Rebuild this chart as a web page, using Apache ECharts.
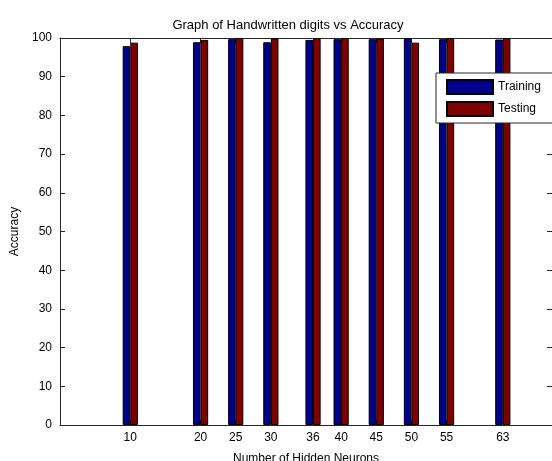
<!DOCTYPE html>
<html>
<head>
<meta charset="utf-8">
<script src="https://cdn.jsdelivr.net/npm/echarts@6/dist/echarts.min.js"></script>
<style>
  html, body { margin: 0; padding: 0; background: #fff; }
  #chart { width: 552px; height: 461px; }
</style>
</head>
<body>
<div id="chart"></div>
<script>
// hidden neuron counts and accuracies
var neurons = [10, 20, 25, 30, 36, 40, 45, 50, 55, 63];
var training = [97.9, 98.9, 99.7, 98.9, 99.5, 99.7, 99.7, 100, 99.7, 99.6];
var testing = [98.8, 99.5, 100, 99.9, 100, 100, 99.9, 98.8, 100, 100];

var FONT = 'Liberation Sans, Arial, sans-serif';
var AXIS_COLOR = '#262626';

function pairs(vals) {
  return neurons.map(function (n, i) { return [n, vals[i]]; });
}

// matlab style box axis: line on every side, ticks pointing in
function boxAxis(extra) {
  var a = {
    type: 'value',
    axisLine: { show: true, onZero: false, lineStyle: { color: AXIS_COLOR, width: 1 } },
    axisTick: { show: true, inside: true, length: 5, lineStyle: { color: AXIS_COLOR } },
    splitLine: { show: false }
  };
  for (var k in extra) a[k] = extra[k];
  return a;
}

var chart = echarts.init(document.getElementById('chart'));
chart.setOption({
  animation: false,
  backgroundColor: '#fff',
  title: {
    text: 'Graph of Handwritten digits vs Accuracy',
    left: 283, top: 14, textAlign: 'center',
    textStyle: { fontFamily: FONT, fontSize: 13, fontWeight: 'normal', color: '#000' }
  },
  legend: {
    orient: 'vertical',
    left: 436, top: 73,
    padding: [6, 40, 6, 10],
    icon: 'rect',
    itemWidth: 46, itemHeight: 14, itemGap: 6,
    backgroundColor: '#fff',
    borderColor: AXIS_COLOR, borderWidth: 1,
    borderRadius: 0,
    textStyle: { fontFamily: FONT, fontSize: 12, color: '#000' },
    data: ['Training', 'Testing']
  },
  grid: { left: 60, right: 0, top: 38, bottom: 36, outerBoundsMode: 'none' },
  xAxis: [
    boxAxis({
      min: 0, max: 70,
      name: 'Number of Hidden Neurons', nameLocation: 'middle', nameGap: 28,
      nameTextStyle: { fontFamily: FONT, fontSize: 12, color: '#000' },
      axisTick: { show: true, inside: true, length: 5, customValues: neurons, lineStyle: { color: AXIS_COLOR } },
      axisLabel: { customValues: neurons, margin: 7, fontFamily: FONT, fontSize: 12, color: '#000' }
    }),
    boxAxis({
      min: 0, max: 70, position: 'top',
      axisTick: { show: true, inside: true, length: 5, customValues: neurons, lineStyle: { color: AXIS_COLOR } },
      axisLabel: { show: false }
    })
  ],
  yAxis: [
    boxAxis({
      min: 0, max: 100, interval: 10,
      name: 'Accuracy', nameLocation: 'middle', nameGap: 39, nameRotate: 90,
      nameTextStyle: { fontFamily: FONT, fontSize: 12, color: '#000' },
      axisLabel: { margin: 8, fontFamily: FONT, fontSize: 12, color: '#000' }
    }),
    boxAxis({
      min: 0, max: 100, interval: 10, position: 'right',
      axisLabel: { show: false }
    })
  ],
  series: [{
    name: 'Training', type: 'bar',
    barWidth: 7.6, barGap: '0%',
    itemStyle: { color: '#00008f', borderColor: '#000', borderWidth: 1 },
    data: pairs(training)
  }, {
    name: 'Testing', type: 'bar',
    barWidth: 7.6, barGap: '0%',
    itemStyle: { color: '#800000', borderColor: '#000', borderWidth: 1 },
    data: pairs(testing)
  }]
});
</script>
</body>
</html>
